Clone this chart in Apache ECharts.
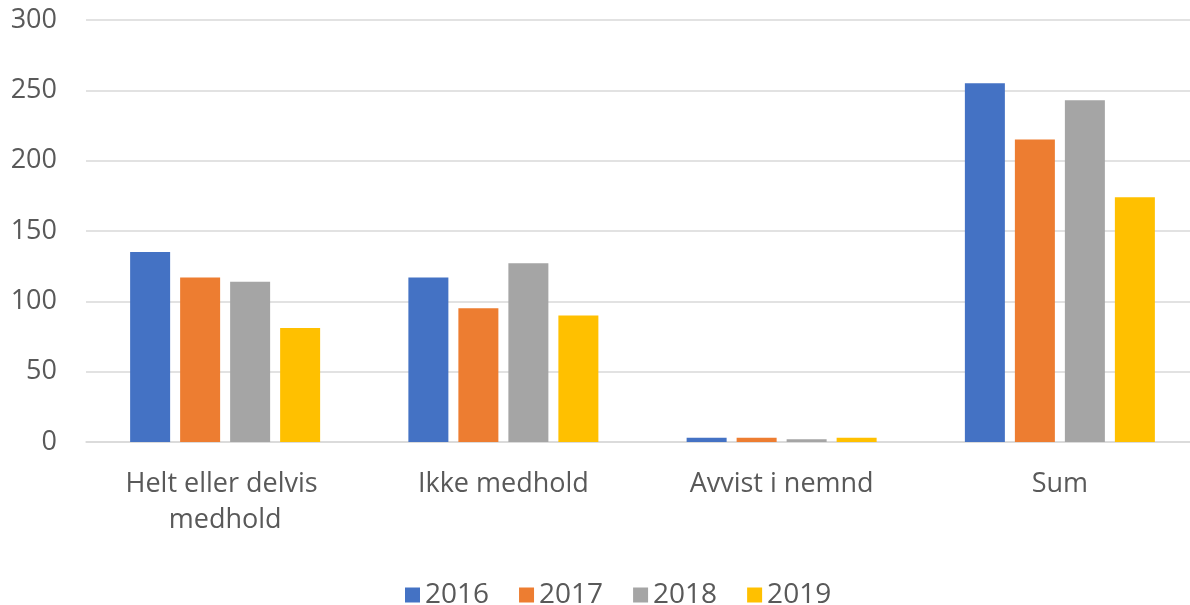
<!DOCTYPE html>
<html>
<head>
<meta charset="utf-8">
<script src="https://cdn.jsdelivr.net/npm/echarts@6/dist/echarts.min.js"></script>
<style>
  html, body { margin: 0; padding: 0; background: #fff; overflow: hidden; }
  /* a bit wider than the window: the plot in the reference runs past the right edge */
  #chart { width: 1199px; height: 605px; }
</style>
</head>
<body>
<div id="chart"></div>
<script>
const categories = ["Helt eller delvis medhold", "Ikke medhold", "Avvist i nemnd", "Sum"];
const years = ["2016", "2017", "2018", "2019"];
const v2016 = [135, 117, 3, 255];
const v2017 = [117, 95, 3, 215];
const v2018 = [114, 127, 2, 243];
const v2019 = [81, 90, 3, 174];
const colors = ["#4472c4", "#ed7d31", "#a5a5a5", "#ffc000"];

const textColor = "#595959";
const font = "Open Sans";

const chart = echarts.init(document.getElementById("chart"));
const option = {
  animation: false,
  color: colors,
  grid: { left: 86, right: 0, top: 20, bottom: 163, containLabel: false },
  legend: {
    data: years,
    left: 400,
    top: 576,
    icon: "rect",
    itemWidth: 15,
    itemHeight: 15,
    itemGap: 30,
    textStyle: { color: textColor, fontSize: 28, fontFamily: font }
  },
  xAxis: {
    type: "category",
    data: categories,
    axisLine: { lineStyle: { color: "#d9d9d9", width: 1.5 } },
    axisTick: { show: false },
    axisLabel: {
      color: textColor,
      fontSize: 27,
      fontFamily: font,
      margin: 24,
      lineHeight: 36,
      width: 250,
      overflow: "break",
      interval: 0
    }
  },
  yAxis: {
    type: "value",
    min: 0,
    max: 300,
    interval: 50,
    axisLine: { show: false },
    axisTick: { show: false },
    splitLine: { lineStyle: { color: "#d9d9d9", width: 1.5 } },
    axisLabel: { color: textColor, fontSize: 27, fontFamily: font, margin: 29 }
  },
  series: [v2016, v2017, v2018, v2019].map((d, i) => ({
    name: years[i],
    type: "bar",
    data: d,
    barWidth: 40,
    barGap: "25%"
  }))
};
chart.setOption(option);
</script>
</body>
</html>
